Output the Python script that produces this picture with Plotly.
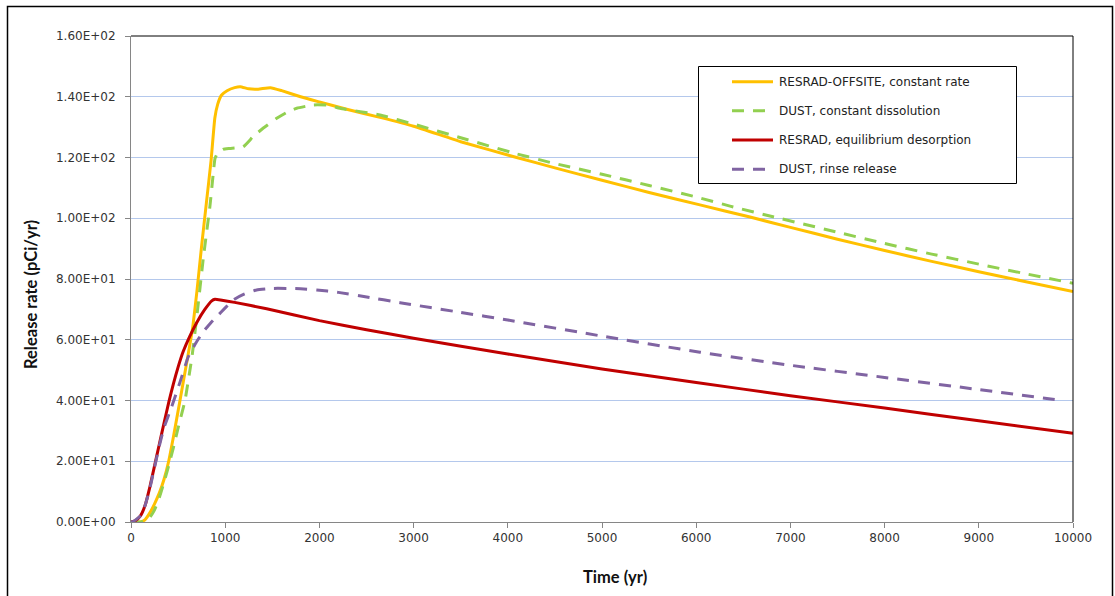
import plotly.graph_objects as go

# ---- series data (time in years, release rate in pCi/yr) ----
t_offsite = [0, 100, 150, 200, 250, 300, 350, 400, 450, 520, 600, 650, 700, 750, 800, 850, 890, 920,
             960, 1020, 1100, 1160, 1250, 1350, 1480, 1600, 1800, 2000, 2300, 2643, 3000, 3500, 4094,
             4500, 5000, 5500, 6040, 6571, 7000, 7500, 8000, 8500, 9000, 9500, 10000]
r_offsite = [0, 0, 0.8, 3, 6, 9.5, 14, 20, 28, 40, 54, 63, 76, 91, 105, 119, 133, 137.5,
             140.5, 142, 143, 143.3, 142.6, 142.5, 143, 142, 140, 138.3, 135.8, 133.2, 130.3, 125.2, 120,
             116.6, 112.5, 108.5, 104.4, 100.4, 97.0, 93.1, 89.4, 85.8, 82.4, 79.1, 75.9]

t_dissol = [0, 100, 150, 200, 250, 300, 350, 400, 450, 500, 573, 650, 700, 768, 838, 874, 892, 920,
            977, 1050, 1190, 1300, 1405, 1547, 1650, 1759, 1936, 2100, 2219, 2643, 3000, 3500, 4094,
            4500, 5000, 5500, 6000, 6359, 6815, 7500, 8000, 8500, 9000, 9500, 10000]
r_dissol = [0, 0, 0.3, 1.5, 4, 8, 13, 18.5, 24.5, 31, 40, 55, 68, 87, 104, 115, 119.7, 121.5,
            122.7, 123, 123.5, 127, 129.7, 132.9, 134.8, 136.2, 137.3, 137.2, 136.2, 134, 131, 126.5, 121.2,
            118, 114.5, 110.8, 107, 104, 100.5, 95.4, 91.7, 88.2, 84.9, 81.7, 78.6]

t_equil = [0, 50, 100, 150, 200, 250, 300, 350, 400, 450, 500, 555, 620, 697, 780, 857, 892, 950,
           1100, 1440, 2000, 2500, 3000, 4000, 5000, 6000, 7000, 8000, 9000, 10000]
r_equil = [0, 0.5, 2, 5.5, 11.5, 18.5, 25.5, 32.5, 39.3, 45.5, 51, 56.2, 60.9, 65.6, 69.8, 72.8, 73.3, 73.1,
           72.3, 70.2, 66.3, 63.3, 60.5, 55.3, 50.4, 45.9, 41.6, 37.5, 33.3, 29.2]

t_rinse = [0, 20, 100, 150, 200, 250, 300, 350, 432, 520, 608, 690, 768, 850, 910, 1000, 1086, 1200,
           1334, 1500, 1653, 1800, 1971, 2200, 2502, 2856, 3500, 4000, 5000, 6040, 7000,
           8000, 9000, 9880]
r_rinse = [0, 0.1, 2, 5.5, 11, 18, 25, 31, 38, 46, 54.4, 59, 62.7, 65.7, 67.6, 70.5, 73.1, 75,
           76.4, 76.9, 76.9, 76.8, 76.4, 75.6, 74.1, 72.2, 69, 66.5, 61.2, 55.9, 51.6,
           47.6, 43.6, 40]

series_names = ["RESRAD-OFFSITE, constant rate", "DUST, constant dissolution",
                "RESRAD, equilibrium desorption", "DUST, rinse release"]
series_colors = ["#FFC000", "#92D050", "#C00000", "#8064A2"]
series_dash = ["solid", "12px,9px", "solid", "12px,9px"]
series_t = [t_offsite, t_dissol, t_equil, t_rinse]
series_r = [r_offsite, r_dissol, r_equil, r_rinse]

y_ticks = list(range(0, 161, 20))
x_ticks = list(range(0, 10001, 1000))

W, H = 1115, 596
L, R, T, B = 131, 42, 36, 74   # plot area margins in px


def px(x):
    return (x - L) / (W - L - R)


def py(y):
    return (H - B - y) / (H - T - B)


fig = go.Figure()
for name, col, dash, t, r in zip(series_names, series_colors, series_dash, series_t, series_r):
    fig.add_trace(go.Scatter(x=t, y=r, mode="lines", name=name, showlegend=False,
                             line=dict(color=col, width=3, dash=dash, shape="spline", smoothing=0.4)))

tick_font = dict(family="DejaVu Sans", size=12, color="#333333")
fig.update_xaxes(range=[0, 10000], tickvals=x_ticks, ticktext=[str(v) for v in x_ticks],
                 showgrid=False, zeroline=False, showline=True, linecolor="#868686", linewidth=1,
                 ticks="outside", ticklen=5, tickcolor="#868686", tickfont=tick_font)
fig.update_yaxes(range=[0, 160], tickvals=y_ticks, ticktext=["{:.2E}".format(v) for v in y_ticks],
                 showgrid=True, gridcolor="#B4C8EC", gridwidth=1, zeroline=False,
                 showline=True, linecolor="#868686", linewidth=1,
                 ticks="outside", ticklen=5, tickcolor="#868686", tickfont=tick_font,
                 ticklabelstandoff=7)

shapes = []
# plot-area top and right borders
shapes.append(dict(type="line", xref="paper", yref="paper", x0=0, x1=1, y0=1, y1=1,
                   line=dict(color="#000000", width=1)))
shapes.append(dict(type="line", xref="paper", yref="paper", x0=1, x1=1, y0=0, y1=1,
                   line=dict(color="#000000", width=1)))
# chart frame
shapes.append(dict(type="rect", xref="paper", yref="paper", x0=px(7.5), x1=px(1112.5),
                   y0=py(600), y1=py(6.5), line=dict(color="#000000", width=1.5)))

# legend box
leg_x0, leg_x1, leg_y0, leg_y1 = 698.5, 1016.5, 66.5, 183.5
shapes.append(dict(type="rect", xref="paper", yref="paper", x0=px(leg_x0), x1=px(leg_x1),
                   y0=py(leg_y1), y1=py(leg_y0), line=dict(color="#000000", width=1),
                   fillcolor="#FFFFFF", layer="above"))
annotations = []
leg_rows = [81.7, 110.7, 140.0, 169.3]
for name, col, dash, yy in zip(series_names, series_colors, series_dash, leg_rows):
    shapes.append(dict(type="line", xref="paper", yref="paper", x0=px(732), x1=px(773),
                       y0=py(yy), y1=py(yy), line=dict(color=col, width=3, dash=dash), layer="above"))
    annotations.append(dict(xref="paper", yref="paper", x=px(777), y=py(yy), text=name,
                            showarrow=False, xanchor="left", yanchor="middle",
                            font=dict(family="DejaVu Sans", size=12, color="#222222")))

title_font = dict(family="Lato", size=16.5, color="#111111")
annotations.append(dict(xref="paper", yref="paper", x=px(615), y=py(577), text="<b>Time (yr)</b>",
                        showarrow=False, xanchor="center", yanchor="middle", font=title_font))
annotations.append(dict(xref="paper", yref="paper", x=px(31), y=py(295),
                        text="<b>Release rate (pCi/yr)</b>", textangle=-90,
                        showarrow=False, xanchor="center", yanchor="middle", font=title_font))

fig.update_layout(width=W, height=H, margin=dict(l=L, r=R, t=T, b=B),
                  paper_bgcolor="#FFFFFF", plot_bgcolor="#FFFFFF",
                  shapes=shapes, annotations=annotations, showlegend=False)

fig.write_html("out.html")
